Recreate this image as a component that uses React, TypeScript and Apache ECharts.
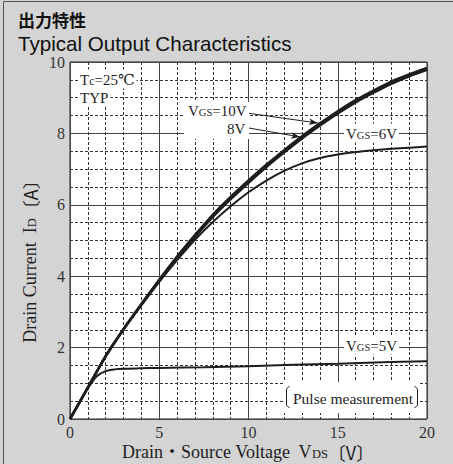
import React, { useEffect, useRef } from 'react';
import * as echarts from 'echarts';

// ---- data ----
const volts = [0, 1, 2, 3, 4, 5, 6, 7, 8, 9, 10, 11, 12, 13, 14, 15, 16, 17, 18, 19, 20];
const idVgs10 = [0, 0.88, 1.76, 2.52, 3.22, 3.9, 4.55, 5.15, 5.72, 6.22, 6.68, 7.12, 7.53, 7.92, 8.28, 8.62, 8.93, 9.2, 9.45, 9.65, 9.83];
const idVgs8 = [0, 0.88, 1.76, 2.51, 3.2, 3.87, 4.51, 5.1, 5.66, 6.16, 6.62, 7.06, 7.47, 7.86, 8.22, 8.56, 8.87, 9.14, 9.39, 9.6, 9.78];
const idVgs6 = [0, 0.88, 1.76, 2.51, 3.19, 3.84, 4.45, 5.02, 5.52, 5.96, 6.35, 6.68, 6.95, 7.16, 7.31, 7.41, 7.48, 7.53, 7.57, 7.6, 7.63];
const volts5 = [0, 0.5, 1, 1.5, 2, 2.5, 3, 4, 5, 7.5, 10, 12.5, 15, 17.5, 20];
const idVgs5 = [0, 0.44, 0.86, 1.2, 1.34, 1.39, 1.41, 1.42, 1.43, 1.45, 1.48, 1.52, 1.55, 1.59, 1.62];

const xTicks = { min: 0, max: 20, interval: 5, minorSplit: 5 };
const yTicks = { min: 0, max: 10, interval: 2, minorSplit: 4 };

// arrow lines from labels to curves (data coordinates)
const arrow10From = [9.92, 8.57];
const arrow10To = [13.89, 8.29];
const arrow8From = [10.03, 8.15];
const arrow8To = [12.89, 7.9];

const SERIF = "'Liberation Serif', 'DejaVu Serif', 'Noto Sans CJK JP', serif";
const SANS = "'Liberation Sans', Arial, 'Noto Sans CJK JP', sans-serif";
const INK = '#1e1e1e';

const pairs = (xs: number[], ys: number[]) => xs.map((x, i) => [x, ys[i]]);

const richStyle = (big: number, small: number) => ({
  a: { fontSize: big, fontFamily: SERIF, fill: INK, color: INK, verticalAlign: 'bottom', lineHeight: big + 2 },
  s: { fontSize: small, fontFamily: SERIF, fill: INK, color: INK, verticalAlign: 'bottom', lineHeight: big + 2, padding: [0, 0, 1, 0] },
  c: { fontSize: big, fontFamily: "'Noto Sans CJK JP', sans-serif", fill: INK, color: INK, verticalAlign: 'bottom', lineHeight: big + 2 },
});

const label = (x: number, y: number, text: string, big = 15, small = 10.5, bg = true, align = 'left') => ({
  type: 'text',
  x,
  y,
  z: 100,
  style: {
    text,
    rich: richStyle(big, small),
    align,
    verticalAlign: 'middle',
    fill: INK,
    backgroundColor: bg ? '#fff' : 'transparent',
    padding: [1, 2, 1, 2],
  },
});

export default function App() {
  const ref = useRef<HTMLDivElement>(null);
  useEffect(() => {
    const chart = echarts.init(ref.current!, null, { renderer: 'svg' });
    const lineBase = {
      type: 'line',
      showSymbol: false,
      symbol: 'none',
      smooth: 0.25,
      z: 5,
    };
    const option: any = {
      animation: false,
      backgroundColor: '#d4d4d4',
      grid: {
        left: 70,
        top: 62,
        right: 26,
        bottom: 45,
        show: true,
        backgroundColor: '#fff',
        borderColor: '#222',
        borderWidth: 1,
      },
      xAxis: {
        type: 'value',
        min: xTicks.min,
        max: xTicks.max,
        interval: xTicks.interval,
        axisLine: { show: false },
        axisTick: { show: false },
        axisLabel: { fontFamily: SERIF, fontSize: 16, color: '#333', margin: 5 },
        splitLine: { show: true, lineStyle: { color: '#444', width: 1, type: 'solid' } },
        minorTick: { show: false, splitNumber: xTicks.minorSplit },
        minorSplitLine: { show: true, lineStyle: { color: '#333', width: 1, type: [3, 2] } },
      },
      yAxis: {
        type: 'value',
        min: yTicks.min,
        max: yTicks.max,
        interval: yTicks.interval,
        axisLine: { show: false },
        axisTick: { show: false },
        axisLabel: { fontFamily: SERIF, fontSize: 16, color: '#333', margin: 5 },
        splitLine: { show: true, lineStyle: { color: '#444', width: 1, type: 'solid' } },
        minorTick: { show: false, splitNumber: yTicks.minorSplit },
        minorSplitLine: { show: true, lineStyle: { color: '#333', width: 1, type: [3, 2] } },
      },
      series: [
        {
          ...lineBase,
          name: 'VGS=10V',
          data: pairs(volts, idVgs10),
          lineStyle: { color: INK, width: 2.6 },
          markLine: {
            silent: true,
            symbol: ['none', 'arrow'],
            symbolSize: [5, 9],
            label: { show: false },
            lineStyle: { color: INK, width: 1, type: 'solid' },
            data: [
              [{ coord: arrow10From }, { coord: arrow10To }],
              [{ coord: arrow8From }, { coord: arrow8To }],
            ],
          },
        },
        { ...lineBase, name: 'VGS=8V', data: pairs(volts, idVgs8), lineStyle: { color: INK, width: 2.6 } },
        { ...lineBase, name: 'VGS=6V', data: pairs(volts, idVgs6), lineStyle: { color: INK, width: 2 } },
        { ...lineBase, name: 'VGS=5V', smooth: 0.3, data: pairs(volts5, idVgs5), lineStyle: { color: INK, width: 2 } },
      ],
      graphic: [
        // outer frame (left and top)
        { type: 'line', z: 100, shape: { x1: 3.5, y1: 1.5, x2: 3.5, y2: 464 }, style: { stroke: '#555', lineWidth: 1 } },
        { type: 'line', z: 100, shape: { x1: 3.5, y1: 1.5, x2: 453, y2: 1.5 }, style: { stroke: '#555', lineWidth: 1 } },
        // titles
        {
          type: 'text', x: 18, y: 19, z: 100,
          style: { text: '出力特性', font: "bold 17px 'Noto Sans CJK JP', sans-serif", fill: '#111', verticalAlign: 'middle' },
        },
        {
          type: 'text', x: 18, y: 43, z: 100,
          style: { text: 'Typical Output Characteristics', font: `20.6px ${SANS}`, fill: '#111', verticalAlign: 'middle' },
        },
        // axis names
        {
          type: 'text', x: 248, y: 451, z: 100,
          style: {
            text: '{a|Drain・Source Voltage  V}{s|DS}{c|〔V〕}',
            rich: richStyle(18, 12.5), align: 'center', verticalAlign: 'middle',
          },
        },
        {
          type: 'text', x: 29, y: 257, z: 100, rotation: Math.PI / 2,
          style: {
            text: '{a|Drain Current  I}{s|D}{c|〔A〕}',
            rich: richStyle(18, 12.5), align: 'center', verticalAlign: 'middle',
          },
        },
        // in-plot annotations
        label(78, 79, '{a|T}{s|c}{a|=25℃}', 15, 12),
        label(78, 97, '{a|TYP}'),
        { type: 'rect', z: 99, shape: { x: 184, y: 102, width: 65, height: 37 }, style: { fill: '#fff' } },
        label(186, 110, '{a|V}{s|GS}{a|=10V}', 15, 10.5, false),
        label(225, 128, '{a|8V}', 15, 10.5, false),
        label(344, 133, '{a|V}{s|GS}{a|=6V}'),
        label(344, 345, '{a|V}{s|GS}{a|=5V}'),
        { type: 'rect', z: 99, shape: { x: 283, y: 382, width: 137, height: 31 }, style: { fill: '#fff' } },
        label(291, 397, '{a|Pulse measurement}', 15.5, 10.5, false),
        { type: 'polyline', z: 101, shape: { points: [[289.5, 386], [286.5, 389], [286.5, 405], [289.5, 408]] }, style: { stroke: INK, lineWidth: 1, fill: 'none' } },
        { type: 'polyline', z: 101, shape: { points: [[414.5, 386], [417.5, 389], [417.5, 405], [414.5, 408]] }, style: { stroke: INK, lineWidth: 1, fill: 'none' } },
      ],
    };
    chart.setOption(option);
    return () => chart.dispose();
  }, []);
  return <div ref={ref} style={{ position: 'fixed', left: 0, top: 0, width: 453, height: 464 }} />;
}
